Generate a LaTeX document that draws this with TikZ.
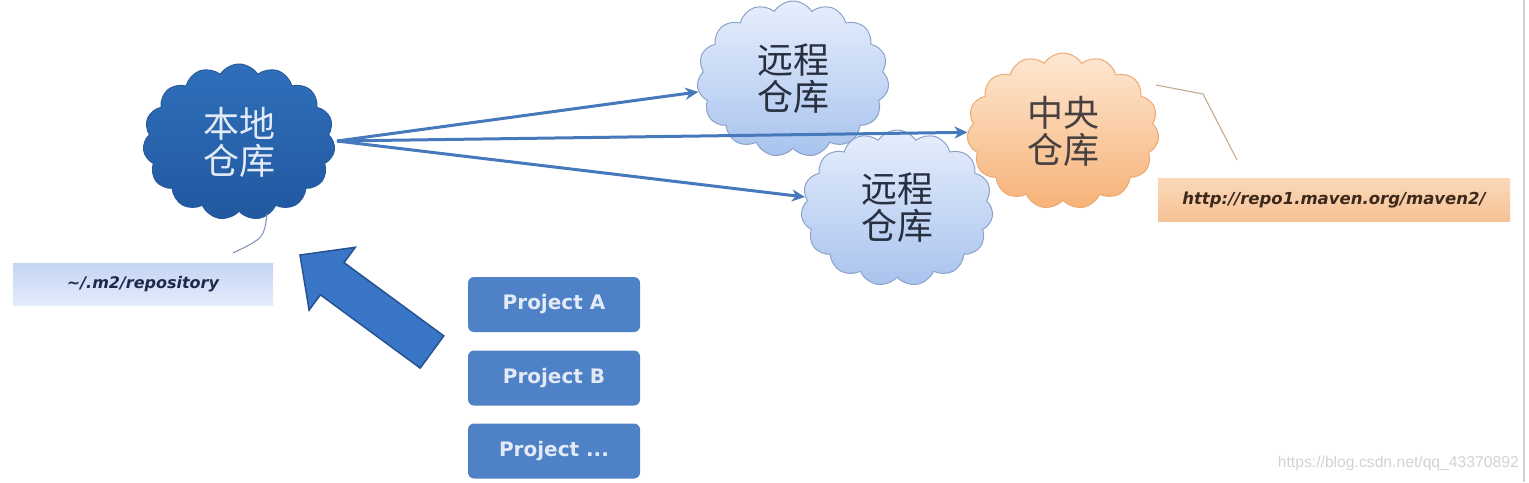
\documentclass[tikz,border=0pt]{standalone}
\usepackage{fontspec}
\setmainfont{DejaVu Sans}
\newfontfamily\cjk{Noto Sans CJK SC}
\newfontfamily\wmfont{Liberation Sans}
\usetikzlibrary{shapes.symbols,arrows.meta}
\definecolor{locfill}{RGB}{47,111,186}
\definecolor{locdark}{RGB}{33,88,160}
\definecolor{locdraw}{RGB}{40,90,155}
\definecolor{remtop}{RGB}{230,238,252}
\definecolor{rembot}{RGB}{168,195,238}
\definecolor{remdraw}{RGB}{140,162,200}
\definecolor{centop}{RGB}{253,232,210}
\definecolor{cenbot}{RGB}{247,178,120}
\definecolor{cendraw}{RGB}{236,170,112}
\definecolor{linkblue}{RGB}{70,120,188}
\definecolor{projfill}{RGB}{79,129,199}
\definecolor{projtext}{RGB}{226,234,247}
\definecolor{arrowfill}{RGB}{58,118,200}
\definecolor{arrowdraw}{RGB}{38,82,145}
\definecolor{darktext}{RGB}{40,48,64}
\begin{document}
\begin{tikzpicture}[x=1pt,y=-1pt,
  cloudbox/.style={cloud, cloud puffs=15, cloud puff arc=115, cloud ignores aspect,
    minimum width=192pt, minimum height=156pt, inner sep=0pt, line width=1pt,
    align=center, font=\cjk\fontsize{36}{37}\selectfont},
  localcloud/.style={cloudbox, top color=locfill, bottom color=locdark, draw=locdraw, text=projtext},
  remotecloud/.style={cloudbox, top color=remtop, bottom color=rembot, draw=remdraw, text=darktext},
  centralcloud/.style={cloudbox, top color=centop, bottom color=cenbot, draw=cendraw, text=darktext!80!brown},
  link/.style={draw=linkblue, line width=3pt, -{Stealth[length=13pt,width=12pt,inset=4pt]}},
  projbox/.style={rounded corners=6pt, fill=projfill, text=projtext, minimum width=172pt,
    minimum height=55pt, font=\bfseries\fontsize{20}{22}\selectfont},
  callout/.style={line width=1.1pt},
]
\useasboundingbox (0,0) rectangle (1529,482);

% clouds
\node[centralcloud] (cen) at (1063,131) {中央\\仓库};
\node[remotecloud] (rem1) at (793,79) {远程\\仓库};
\node[remotecloud] (rem2) at (897,208) {远程\\仓库};
\node[localcloud] (loc) at (239,142) {本地\\仓库};

% links
\coordinate (src) at (337,141);
\draw[link] (src) -- (rem1);
\draw[link] (src) -- (rem2);
\draw[link] (src) -- (cen);

% label boxes
\node[top color={rgb,255:red,196;green,212;blue,244}, bottom color={rgb,255:red,228;green,236;blue,251},
  minimum width=260pt, minimum height=42pt, text={rgb,255:red,28;green,43;blue,77},
  font=\bfseries\itshape\fontsize{16}{18}\selectfont] (repo) at (143,284) {\textasciitilde/.m2/repository};
\node[top color={rgb,255:red,251;green,216;blue,184}, bottom color={rgb,255:red,247;green,194;blue,150},
  minimum width=352pt, minimum height=43pt, text={rgb,255:red,60;green,42;blue,28},
  font=\bfseries\itshape\fontsize{16.5}{18}\selectfont] (url) at (1334,200) {http://repo1.maven.org/maven2/};

% callouts
\coordinate (lc1) at (267,214);
\coordinate (lc2) at (233,253);
\draw[callout, draw={rgb,255:red,130;green,150;blue,185}] (lc1) .. controls (264,238) .. (lc2);
\coordinate (cc1) at (1156,85);
\coordinate (cc2) at (1203,94);
\coordinate (cc3) at (1237,160);
\draw[callout, draw={rgb,255:red,200;green,170;blue,140}] (cc1) -- (cc2) -- (cc3);

% block arrow
\filldraw[fill=arrowfill, draw=arrowdraw, line width=1.5pt, line join=miter]
  (443.8,335.9) -- (344.0,262.6) -- (355.3,247.3) -- (300,255) -- (309.1,310.1)
  -- (320.4,294.8) -- (420.2,368.1) -- cycle;

% projects
\node[projbox] (pa) at (554,304.5) {Project A};
\node[projbox] (pb) at (554,378) {Project B};
\node[projbox] (pc) at (554,451) {Project ...};

% watermark and edge
\node[anchor=east, text=gray!35, font=\wmfont\fontsize{15.7}{17}\selectfont, inner sep=0pt] (wm) at (1519,463) {https://blog.csdn.net/qq\_43370892};
\draw[gray!35, line width=1.2pt] (1524,0) -- (1524,482);
\end{tikzpicture}
\end{document}
